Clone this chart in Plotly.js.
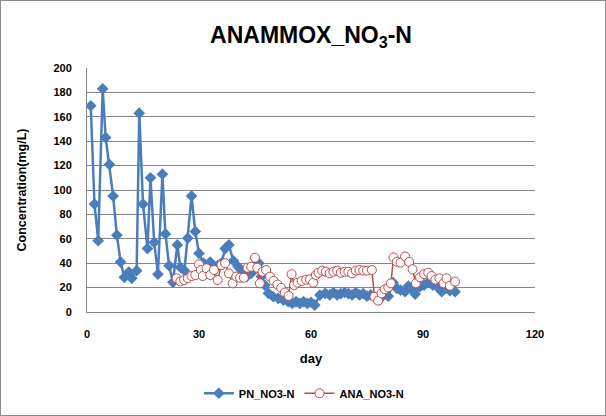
<!DOCTYPE html>
<html>
<head>
<meta charset="utf-8">
<script src="https://cdn.plot.ly/plotly-3.0.1.min.js"></script>
<style>
html,body{margin:0;padding:0;background:#fff;}
#wrap{position:relative;width:606px;height:416px;}
#chart{width:606px;height:416px;}
#frame{position:absolute;left:0;top:0;width:606px;height:416px;box-sizing:border-box;border:1px solid #8c8c8c;pointer-events:none;}
</style>
</head>
<body>
<div id="wrap"><div id="chart"></div><div id="frame"></div></div>
<script>
// PN_NO3-N series (day, concentration mg/L)
const pnDay = [1, 2, 3, 4.2, 5, 6, 7, 8, 9, 10, 11.2, 12, 13.3, 14, 15, 16.2, 17, 18, 19, 20.2, 21, 22, 23, 24.2, 25, 26.1, 27, 28, 29, 30, 31.2, 32, 33, 34, 35, 36, 37, 38, 39.2, 40.5, 41.9, 42.8, 44, 45, 46, 46.7, 47.6, 48.6, 49.9, 51.2, 52.6, 53.9, 55, 56, 57, 58, 59, 60, 61, 62.4, 63.8, 65, 66, 67, 68, 69, 70, 71, 72, 73, 74, 75, 76, 77.2, 78.3, 79.4, 80.7, 82, 83, 84, 85.2, 86.1, 87.2, 87.9, 89.2, 90.3, 91.4, 92.6, 93.8, 95, 96.2, 97.2, 98.6];
const pnVal = [169, 88.5, 58.5, 183, 143, 121, 95, 63, 41, 28.4, 32.8, 27.6, 33.9, 163, 88.5, 52, 110, 57, 31, 113, 64, 38, 24.3, 55, 36.6, 34, 60.5, 95, 66, 48, 40, 36, 41, 37, 38, 40, 52, 55, 42, 37, 33, 29, 31.7, 36, 40, 29, 22, 15.3, 12.5, 11.2, 9.8, 8.4, 7, 8.5, 7, 8.5, 7, 8, 5.7, 13.9, 15.3, 14, 16, 14, 15, 16, 15, 14, 16, 14, 15, 13, 14, 12, 10.4, 13.9, 13, 24, 19.4, 18, 16.6, 21.3, 18, 14.7, 20.7, 22, 24, 22, 20.7, 16.6, 19.4, 17.5, 16.6];

// ANA_NO3-N series (day, concentration mg/L)
const anaDay = [24, 25, 26, 27, 28, 29, 30, 30.5, 31, 32, 33, 34, 35, 36, 37, 38, 39, 40, 41, 42, 43, 44, 45, 45.6, 46.3, 47, 48, 49, 50, 51, 52, 53, 54, 54.8, 55.5, 56.4, 57.5, 58.7, 59.7, 60.6, 61.3, 62, 63, 64, 65, 66, 67, 68, 69, 70, 71, 72, 73, 74, 75, 76.3, 77, 78, 78.9, 79.8, 80.7, 81.4, 82.1, 83, 84, 85.2, 86.3, 87.2, 88.1, 89.2, 90.3, 91.4, 92.3, 93.3, 94.4, 95.5, 96.3, 97.2, 98.6];
const anaVal = [27.6, 25, 26.2, 27.6, 29.5, 30.3, 39, 34.4, 29.5, 35.8, 30.3, 34.4, 26.2, 38.5, 40, 31.7, 23.5, 29, 28.1, 28.1, 36.3, 37.1, 44.5, 36.3, 23.5, 33, 34.4, 29, 25.5, 22.5, 19.8, 16, 13.2, 31, 22.1, 24, 25.5, 26.5, 26.8, 24, 30.3, 32.2, 33.9, 33, 31.7, 33, 33.9, 32.2, 33, 33, 31.7, 33.9, 34.4, 33.9, 33.9, 34.4, 12.5, 9.3, 15.3, 18.6, 20.2, 23.5, 44.8, 41.2, 40.4, 45.5, 41, 35, 23.5, 28.4, 31, 32.2, 29.5, 26.5, 27.6, 23.5, 27.6, 21.5, 24.9];

const seriesNames = ['PN_NO3-N', 'ANA_NO3-N'];
const xTicks = [0, 30, 60, 90, 120];
const yTicks = [0, 20, 40, 60, 80, 100, 120, 140, 160, 180, 200];

const FONT = 'Arial, "Liberation Sans", sans-serif';
const GRID = '#868686';

const traces = [
  {
    x: pnDay, y: pnVal, name: seriesNames[0], type: 'scatter', mode: 'lines+markers',
    line: {color: '#4A7EBB', width: 2.5},
    marker: {symbol: 'diamond', size: 9, color: '#4A7EBB', line: {width: 0}}
  },
  {
    x: anaDay, y: anaVal, name: seriesNames[1], type: 'scatter', mode: 'lines+markers',
    line: {color: '#BE4B48', width: 1.5},
    marker: {symbol: 'circle', size: 9, color: '#ffffff', line: {width: 1, color: '#BE4B48'}}
  }
];

const layout = {
  width: 606, height: 416,
  margin: {l: 87, r: 71, t: 68, b: 104, autoexpand: false},
  paper_bgcolor: '#ffffff', plot_bgcolor: '#ffffff',
  font: {family: FONT, color: '#000'},
  showlegend: true,
  title: {
    text: 'ANAMMOX_NO<sub>3</sub>-N',
    font: {family: FONT, size: 23, weight: 'bold', color: '#000'},
    x: 0.5, xanchor: 'center', xref: 'paper',
    y: 0.915, yanchor: 'middle', yref: 'container'
  },
  xaxis: {
    range: [0, 120], tickvals: xTicks, ticktext: xTicks.map(String),
    showgrid: false, zeroline: false, automargin: false,
    showline: true, linecolor: GRID, linewidth: 1,
    ticks: '', ticklabelstandoff: 12,
    tickfont: {family: FONT, size: 11, weight: 'bold', color: '#000'},
    title: {text: 'day', font: {family: FONT, size: 13, weight: 'bold', color: '#000'}, standoff: 14}
  },
  yaxis: {
    range: [0, 200], tickvals: yTicks, ticktext: yTicks.map(String),
    showgrid: true, gridcolor: GRID, gridwidth: 1, zeroline: false, automargin: false,
    showline: true, linecolor: GRID, linewidth: 1,
    ticks: '', ticklabelstandoff: 12,
    tickfont: {family: FONT, size: 11, weight: 'bold', color: '#000'},
    title: {text: 'Concentration(mg/L)', font: {family: FONT, size: 12.5, weight: 'bold', color: '#000'}, standoff: 24}
  },
  legend: {
    orientation: 'h', x: 0.484, xanchor: 'center', y: -0.333, yanchor: 'middle',
    font: {family: FONT, size: 11, weight: 'bold', color: '#000'},
    itemwidth: 30, bgcolor: 'rgba(0,0,0,0)'
  }
};

Plotly.newPlot('chart', traces, layout, {displayModeBar: false, staticPlot: true});
</script>
</body>
</html>
